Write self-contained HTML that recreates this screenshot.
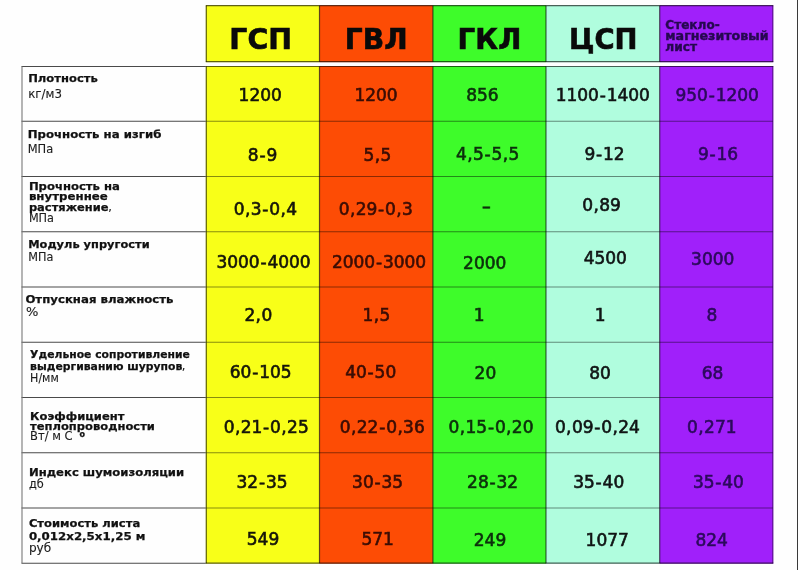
<!DOCTYPE html>
<html lang="ru"><head><meta charset="utf-8"><title>Сравнение листовых материалов</title>
<style>html,body{margin:0;padding:0;background:#fff;overflow:hidden}svg{display:block}text{font-family:"DejaVu Sans","Liberation Sans",sans-serif;fill:#111}.b{font-weight:bold;font-size:11px;stroke:#111;stroke-width:0.25px}.r{font-size:11.5px;fill:#1c1c1c;stroke:#1c1c1c;stroke-width:0.12px}.v{font-size:17px;stroke-width:0.62px}.h{font-weight:bold;font-size:28.5px;fill:#0a0a0a;stroke:#0a0a0a;stroke-width:0.6px}.s{font-weight:bold;font-size:12px;fill:#26084f;stroke:#26084f;stroke-width:0.4px}</style></head><body>
<svg width="798" height="570" viewBox="0 0 798 570">
<rect width="798" height="570" fill="#fefefe"/>
<rect x="797" y="0" width="1" height="570" fill="#3a3a3a"/>
<rect x="205.8" y="5.2" width="113.7" height="57.0" fill="#f8ff18"/>
<rect x="205.8" y="66.0" width="113.7" height="497.7" fill="#f8ff18"/>
<rect x="319.5" y="5.2" width="113.4" height="57.0" fill="#fd4c05"/>
<rect x="319.5" y="66.0" width="113.4" height="497.7" fill="#fd4c05"/>
<rect x="432.9" y="5.2" width="113.1" height="57.0" fill="#3efc2a"/>
<rect x="432.9" y="66.0" width="113.1" height="497.7" fill="#3efc2a"/>
<rect x="546.0" y="5.2" width="113.7" height="57.0" fill="#b0fdde"/>
<rect x="546.0" y="66.0" width="113.7" height="497.7" fill="#b0fdde"/>
<rect x="659.7" y="5.2" width="113.6" height="57.0" fill="#a020fa"/>
<rect x="659.7" y="66.0" width="113.6" height="497.7" fill="#a020fa"/>
<line x1="21.5" y1="66.50" x2="205.8" y2="66.50" stroke="#4a4a4a" stroke-width="1.1"/>
<line x1="21.5" y1="121.20" x2="205.8" y2="121.20" stroke="#4a4a4a" stroke-width="1.1"/>
<line x1="21.5" y1="176.45" x2="205.8" y2="176.45" stroke="#4a4a4a" stroke-width="1.1"/>
<line x1="21.5" y1="231.70" x2="205.8" y2="231.70" stroke="#4a4a4a" stroke-width="1.1"/>
<line x1="21.5" y1="286.95" x2="205.8" y2="286.95" stroke="#4a4a4a" stroke-width="1.1"/>
<line x1="21.5" y1="342.20" x2="205.8" y2="342.20" stroke="#4a4a4a" stroke-width="1.1"/>
<line x1="21.5" y1="397.45" x2="205.8" y2="397.45" stroke="#4a4a4a" stroke-width="1.1"/>
<line x1="21.5" y1="452.70" x2="205.8" y2="452.70" stroke="#4a4a4a" stroke-width="1.1"/>
<line x1="21.5" y1="507.95" x2="205.8" y2="507.95" stroke="#4a4a4a" stroke-width="1.1"/>
<line x1="21.5" y1="563.20" x2="205.8" y2="563.20" stroke="#4a4a4a" stroke-width="1.1"/>
<line x1="22.0" y1="66.5" x2="22.0" y2="563.2" stroke="#777" stroke-width="1.1"/>
<line x1="206.3" y1="121.20" x2="772.8" y2="121.20" stroke="#000" stroke-opacity="0.45" stroke-width="1.1"/>
<line x1="206.3" y1="176.45" x2="772.8" y2="176.45" stroke="#000" stroke-opacity="0.45" stroke-width="1.1"/>
<line x1="206.3" y1="231.70" x2="772.8" y2="231.70" stroke="#000" stroke-opacity="0.45" stroke-width="1.1"/>
<line x1="206.3" y1="286.95" x2="772.8" y2="286.95" stroke="#000" stroke-opacity="0.45" stroke-width="1.1"/>
<line x1="206.3" y1="342.20" x2="772.8" y2="342.20" stroke="#000" stroke-opacity="0.45" stroke-width="1.1"/>
<line x1="206.3" y1="397.45" x2="772.8" y2="397.45" stroke="#000" stroke-opacity="0.45" stroke-width="1.1"/>
<line x1="206.3" y1="452.70" x2="772.8" y2="452.70" stroke="#000" stroke-opacity="0.45" stroke-width="1.1"/>
<line x1="206.3" y1="507.95" x2="772.8" y2="507.95" stroke="#000" stroke-opacity="0.45" stroke-width="1.1"/>
<line x1="205.8" y1="5.70" x2="773.3" y2="5.70" stroke="#000" stroke-opacity="0.62" stroke-width="1.2"/>
<line x1="205.8" y1="61.70" x2="773.3" y2="61.70" stroke="#000" stroke-opacity="0.62" stroke-width="1.2"/>
<line x1="205.8" y1="66.50" x2="773.3" y2="66.50" stroke="#000" stroke-opacity="0.62" stroke-width="1.2"/>
<line x1="205.8" y1="563.20" x2="773.3" y2="563.20" stroke="#000" stroke-opacity="0.62" stroke-width="1.2"/>
<line x1="206.3" y1="66.5" x2="206.3" y2="563.2" stroke="#000" stroke-opacity="0.62" stroke-width="1.2"/>
<line x1="206.3" y1="5.7" x2="206.3" y2="61.7" stroke="#000" stroke-opacity="0.62" stroke-width="1.2"/>
<line x1="319.5" y1="66.5" x2="319.5" y2="563.2" stroke="#000" stroke-opacity="0.62" stroke-width="1.2"/>
<line x1="319.5" y1="5.7" x2="319.5" y2="61.7" stroke="#000" stroke-opacity="0.62" stroke-width="1.2"/>
<line x1="432.9" y1="66.5" x2="432.9" y2="563.2" stroke="#000" stroke-opacity="0.62" stroke-width="1.2"/>
<line x1="432.9" y1="5.7" x2="432.9" y2="61.7" stroke="#000" stroke-opacity="0.62" stroke-width="1.2"/>
<line x1="546.0" y1="66.5" x2="546.0" y2="563.2" stroke="#000" stroke-opacity="0.62" stroke-width="1.2"/>
<line x1="546.0" y1="5.7" x2="546.0" y2="61.7" stroke="#000" stroke-opacity="0.62" stroke-width="1.2"/>
<line x1="659.7" y1="66.5" x2="659.7" y2="563.2" stroke="#000" stroke-opacity="0.62" stroke-width="1.2"/>
<line x1="659.7" y1="5.7" x2="659.7" y2="61.7" stroke="#000" stroke-opacity="0.62" stroke-width="1.2"/>
<line x1="772.8" y1="66.5" x2="772.8" y2="563.2" stroke="#000" stroke-opacity="0.45" stroke-width="1.1"/>
<line x1="772.8" y1="5.7" x2="772.8" y2="61.7" stroke="#000" stroke-opacity="0.45" stroke-width="1.1"/>
<text class="h" x="229.3" y="49.3" textLength="62.7" lengthAdjust="spacingAndGlyphs">ГСП</text>
<text class="h" x="344.8" y="49.3" textLength="62.8" lengthAdjust="spacingAndGlyphs">ГВЛ</text>
<text class="h" x="457.6" y="49.0" textLength="63.7" lengthAdjust="spacingAndGlyphs">ГКЛ</text>
<text class="h" x="569.0" y="49.0" textLength="68.6" lengthAdjust="spacingAndGlyphs">ЦСП</text>
<text class="s" x="665.3" y="29.2" textLength="54.4" lengthAdjust="spacingAndGlyphs">Стекло-</text>
<text class="s" x="665.3" y="40.1" textLength="103.2" lengthAdjust="spacingAndGlyphs">магнезитовый</text>
<text class="s" x="665.3" y="50.6" textLength="31.8" lengthAdjust="spacingAndGlyphs">лист</text>
<text class="b" x="28.2" y="82.3" textLength="69.6" lengthAdjust="spacingAndGlyphs">Плотность</text>
<text class="r" x="28.2" y="98.2" textLength="33.8" lengthAdjust="spacingAndGlyphs">кг/м3</text>
<text class="b" x="27.7" y="137.7" textLength="133.7" lengthAdjust="spacingAndGlyphs">Прочность на изгиб</text>
<text class="r" x="27.7" y="153.1" textLength="25.5" lengthAdjust="spacingAndGlyphs">МПа</text>
<text class="b" x="28.9" y="189.9" textLength="91.0" lengthAdjust="spacingAndGlyphs">Прочность на</text>
<text class="b" x="28.9" y="200.2" textLength="78.9" lengthAdjust="spacingAndGlyphs">внутреннее</text>
<text class="b" x="28.9" y="211.0" textLength="79.7" lengthAdjust="spacingAndGlyphs">растяжение</text>
<text class="r" x="108.2" y="211.0">,</text>
<text class="r" x="28.9" y="221.9" textLength="25.1" lengthAdjust="spacingAndGlyphs">МПа</text>
<text class="b" x="28.2" y="248.2" textLength="121.5" lengthAdjust="spacingAndGlyphs">Модуль упругости</text>
<text class="r" x="28.2" y="260.6" textLength="25.1" lengthAdjust="spacingAndGlyphs">МПа</text>
<text class="b" x="25.4" y="303.2" textLength="148.1" lengthAdjust="spacingAndGlyphs">Отпускная влажность</text>
<text class="r" x="25.9" y="315.6" textLength="12.4" lengthAdjust="spacingAndGlyphs">%</text>
<text class="b" x="30.1" y="358.4" textLength="159.8" lengthAdjust="spacingAndGlyphs">Удельное сопротивление</text>
<text class="b" x="30.1" y="369.8" textLength="152.2" lengthAdjust="spacingAndGlyphs">выдергиванию шурупов</text>
<text class="r" x="181.8" y="369.8">,</text>
<text class="r" x="30.1" y="381.7" textLength="28.7" lengthAdjust="spacingAndGlyphs">Н/мм</text>
<text class="b" x="30.1" y="419.6" textLength="94.3" lengthAdjust="spacingAndGlyphs">Коэффициент</text>
<text class="b" x="30.1" y="429.8" textLength="124.8" lengthAdjust="spacingAndGlyphs">теплопроводности</text>
<text class="r" x="30.1" y="440.3" textLength="42.5" lengthAdjust="spacingAndGlyphs">Вт/ м С</text>
<text class="b" x="28.9" y="475.6" textLength="155.3" lengthAdjust="spacingAndGlyphs">Индекс шумоизоляции</text>
<text class="r" x="28.9" y="487.5" textLength="14.8" lengthAdjust="spacingAndGlyphs">дб</text>
<text class="b" x="28.9" y="527.1" textLength="111.3" lengthAdjust="spacingAndGlyphs">Стоимость листа</text>
<text class="b" x="28.9" y="539.8" textLength="116.5" lengthAdjust="spacingAndGlyphs">0,012х2,5х1,25 м</text>
<text class="r" x="28.9" y="551.7" textLength="22.3" lengthAdjust="spacingAndGlyphs">руб</text>
<text class="b" x="79.4" y="437.4" style="font-size:8px">о</text>
<text class="v" stroke="#15150a" style="fill:#15150a" x="238.6 249.4 260.2 271.0" y="101.4">1200</text>
<text class="v" stroke="#3a0d05" style="fill:#3a0d05" x="354.4 365.2 376.0 386.8" y="101.4">1200</text>
<text class="v" stroke="#0c2f0c" style="fill:#0c2f0c" x="466.2 477.0 487.8" y="101.3">856</text>
<text class="v" stroke="#101414" style="fill:#101414" x="555.7 566.5 577.3 588.1 599.7 606.7 617.5 628.3 639.1" y="101.3">1100-1400</text>
<text class="v" stroke="#2c0a5c" style="fill:#2c0a5c" x="675.5 686.3 697.1 708.7 715.7 726.5 737.3 748.1" y="101.3">950-1200</text>
<text class="v" stroke="#15150a" style="fill:#15150a" x="247.8 259.4 266.4" y="160.6">8-9</text>
<text class="v" stroke="#3a0d05" style="fill:#3a0d05" x="363.6 374.8 380.6" y="160.6">5,5</text>
<text class="v" stroke="#0c2f0c" style="fill:#0c2f0c" x="456.0 467.2 473.0 484.6 491.6 502.8 508.5" y="160.2">4,5-5,5</text>
<text class="v" stroke="#101414" style="fill:#101414" x="584.4 596.0 603.0 613.8" y="160.2">9-12</text>
<text class="v" stroke="#2c0a5c" style="fill:#2c0a5c" x="697.9 709.5 716.5 727.3" y="160.2">9-16</text>
<text class="v" stroke="#15150a" style="fill:#15150a" x="233.7 244.9 250.7 262.3 269.3 280.5 286.2" y="214.5">0,3-0,4</text>
<text class="v" stroke="#3a0d05" style="fill:#3a0d05" x="338.7 349.9 355.7 366.5 378.1 385.1 396.3 402.1" y="214.5">0,29-0,3</text>
<text class="v" stroke="#0c2f0c" style="fill:#0c2f0c" x="481.8" y="212.0" textLength="9.2" lengthAdjust="spacingAndGlyphs">-</text>
<text class="v" stroke="#101414" style="fill:#101414" x="582.2 593.4 599.2 610.0" y="211.2">0,89</text>
<text class="v" stroke="#15150a" style="fill:#15150a" x="216.4 227.2 238.0 248.8 260.4 267.4 278.2 289.0 299.8" y="267.9">3000-4000</text>
<text class="v" stroke="#3a0d05" style="fill:#3a0d05" x="331.9 342.7 353.5 364.3 375.9 382.9 393.7 404.5 415.3" y="267.9">2000-3000</text>
<text class="v" stroke="#0c2f0c" style="fill:#0c2f0c" x="463.1 473.9 484.7 495.5" y="268.7">2000</text>
<text class="v" stroke="#101414" style="fill:#101414" x="583.7 594.5 605.3 616.1" y="263.6">4500</text>
<text class="v" stroke="#2c0a5c" style="fill:#2c0a5c" x="691.1 701.9 712.7 723.5" y="264.5">3000</text>
<text class="v" stroke="#15150a" style="fill:#15150a" x="244.4 255.6 261.4" y="320.9">2,0</text>
<text class="v" stroke="#3a0d05" style="fill:#3a0d05" x="362.6 373.8 379.6" y="320.9">1,5</text>
<text class="v" stroke="#0c2f0c" style="fill:#0c2f0c" x="473.8" y="321.2">1</text>
<text class="v" stroke="#101414" style="fill:#101414" x="594.8" y="321.2">1</text>
<text class="v" stroke="#2c0a5c" style="fill:#2c0a5c" x="706.6" y="321.2">8</text>
<text class="v" stroke="#15150a" style="fill:#15150a" x="229.8 240.6 252.2 259.2 270.0 280.8" y="378.0">60-105</text>
<text class="v" stroke="#3a0d05" style="fill:#3a0d05" x="345.2 356.0 367.6 374.6 385.4" y="378.0">40-50</text>
<text class="v" stroke="#0c2f0c" style="fill:#0c2f0c" x="474.6 485.4" y="378.6">20</text>
<text class="v" stroke="#101414" style="fill:#101414" x="589.2 600.0" y="378.6">80</text>
<text class="v" stroke="#2c0a5c" style="fill:#2c0a5c" x="701.7 712.5" y="378.6">68</text>
<text class="v" stroke="#15150a" style="fill:#15150a" x="223.7 234.9 240.7 251.5 263.1 270.1 281.3 287.0 297.9" y="433.3">0,21-0,25</text>
<text class="v" stroke="#3a0d05" style="fill:#3a0d05" x="339.8 351.0 356.8 367.6 379.2 386.2 397.4 403.1 414.0" y="433.3">0,22-0,36</text>
<text class="v" stroke="#0c2f0c" style="fill:#0c2f0c" x="448.5 459.7 465.5 476.3 487.9 494.9 506.1 511.8 522.7" y="433.3">0,15-0,20</text>
<text class="v" stroke="#101414" style="fill:#101414" x="554.9 566.1 571.9 582.7 594.3 601.3 612.5 618.2 629.1" y="433.3">0,09-0,24</text>
<text class="v" stroke="#2c0a5c" style="fill:#2c0a5c" x="687.1 698.3 704.1 714.9 725.7" y="433.3">0,271</text>
<text class="v" stroke="#15150a" style="fill:#15150a" x="236.5 247.3 258.9 265.9 276.7" y="487.9">32-35</text>
<text class="v" stroke="#3a0d05" style="fill:#3a0d05" x="352.1 362.9 374.5 381.5 392.3" y="487.9">30-35</text>
<text class="v" stroke="#0c2f0c" style="fill:#0c2f0c" x="467.1 477.9 489.5 496.5 507.3" y="487.9">28-32</text>
<text class="v" stroke="#101414" style="fill:#101414" x="573.2 584.0 595.6 602.6 613.4" y="487.9">35-40</text>
<text class="v" stroke="#2c0a5c" style="fill:#2c0a5c" x="692.9 703.7 715.3 722.3 733.1" y="488.0">35-40</text>
<text class="v" stroke="#15150a" style="fill:#15150a" x="246.8 257.6 268.4" y="545.3">549</text>
<text class="v" stroke="#3a0d05" style="fill:#3a0d05" x="361.4 372.2 383.0" y="545.3">571</text>
<text class="v" stroke="#0c2f0c" style="fill:#0c2f0c" x="473.8 484.6 495.4" y="545.5">249</text>
<text class="v" stroke="#101414" style="fill:#101414" x="585.6 596.4 607.2 618.0" y="545.5">1077</text>
<text class="v" stroke="#2c0a5c" style="fill:#2c0a5c" x="695.4 706.2 717.0" y="545.5">824</text>
</svg></body></html>
